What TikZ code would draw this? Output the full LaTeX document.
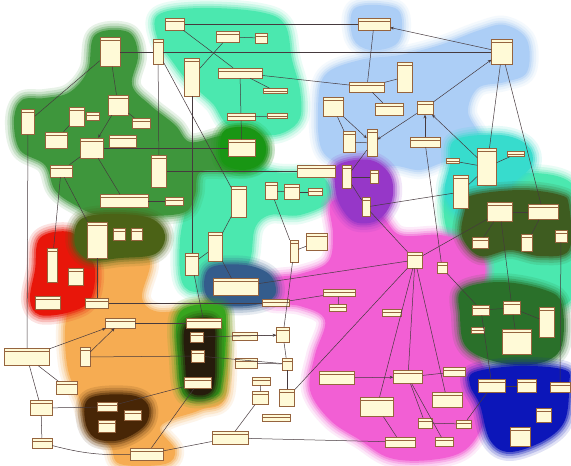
\documentclass[tikz,border=0pt]{standalone}
\usetikzlibrary{arrows.meta}
\definecolor{cGreen}{RGB}{62,150,60}
\definecolor{cGreenB}{RGB}{25,150,20}
\definecolor{cTeal}{RGB}{75,232,175}
\definecolor{cCyan}{RGB}{55,220,205}
\definecolor{cLblue}{RGB}{172,206,246}
\definecolor{cPink}{RGB}{242,95,212}
\definecolor{cPurple}{RGB}{150,55,200}
\definecolor{cOrange}{RGB}{246,172,82}
\definecolor{cRed}{RGB}{232,22,10}
\definecolor{cOlive}{RGB}{75,98,22}
\definecolor{cSteel}{RGB}{52,92,140}
\definecolor{cBlack}{RGB}{38,28,12}
\definecolor{cGlow}{RGB}{55,165,30}
\definecolor{cBrown}{RGB}{72,38,6}
\definecolor{cROlive}{RGB}{62,92,32}
\definecolor{cRGreen}{RGB}{42,112,42}
\definecolor{cDBlue}{RGB}{12,22,185}
\definecolor{cBoxFill}{RGB}{255,250,215}
\definecolor{cBoxDraw}{RGB}{150,100,62}
\definecolor{cLine}{RGB}{70,58,62}
\tikzset{
  cls/.style={draw=cBoxDraw, fill=cBoxFill, line width=0.5pt, inner sep=0pt,
    path picture={\draw[cBoxDraw, line width=0.3pt]
      ([yshift=-3pt]path picture bounding box.north west) -- ([yshift=-3pt]path picture bounding box.north east);}},
  conn/.style={draw=cLine, line width=0.5pt},
  arr/.style={conn, -{Stealth[length=3.5pt,width=3pt]}},
}
\newcommand\cl[5]{\node[cls,minimum width=#4pt,minimum height=#5pt] (#1) at (#2,#3) {};}
\newcommand\blob[2]{%
  \draw[#1, line width=18pt, opacity=0.12, line join=round] plot[smooth cycle, tension=0.6] coordinates {#2};
  \draw[#1, line width=13pt, opacity=0.18, line join=round] plot[smooth cycle, tension=0.6] coordinates {#2};
  \draw[#1, line width=8pt, opacity=0.28, line join=round] plot[smooth cycle, tension=0.6] coordinates {#2};
  \draw[#1, line width=4pt, opacity=0.45, line join=round] plot[smooth cycle, tension=0.6] coordinates {#2};
  \fill[#1] plot[smooth cycle, tension=0.6] coordinates {#2};}
\begin{document}
\begin{tikzpicture}[x=1pt,y=-1pt]
\fill[white] (0,0) rectangle (571,466);
\useasboundingbox (0,0) rectangle (571,466);
% ---------------- blobs ----------------
\blob{cTeal}{(158,15) (200,8) (260,12) (285,25) (292,60) (300,90) (300,118) (285,132) (265,135) (252,125) (228,125) (214,105) (200,92) (185,78) (170,58) (158,40)}
\blob{cTeal}{(195,160) (240,160) (275,172) (320,175) (330,200) (300,215) (270,215) (255,228) (250,260) (235,280) (200,292) (182,282) (180,240) (188,200)}
\blob{cTeal}{(452,188) (571,183) (571,300) (470,302) (455,262)}
\blob{cLblue}{(355,8) (395,8) (402,28) (395,45) (370,50) (353,38)}
\blob{cLblue}{(325,75) (360,60) (400,55) (440,45) (480,30) (505,25) (527,40) (527,72) (505,82) (478,88) (468,112) (480,138) (470,160) (445,162) (420,170) (395,166) (370,170) (345,166) (322,150) (318,110)}
\blob{cCyan}{(455,140) (500,135) (527,145) (532,165) (512,185) (492,215) (462,216) (445,195) (450,165)}
\blob{cGreen}{(95,35) (128,32) (138,55) (132,85) (150,105) (175,125) (190,142) (220,136) (250,133) (266,150) (256,166) (230,170) (200,172) (195,195) (185,212) (150,216) (100,215) (75,205) (55,190) (45,165) (20,150) (14,120) (22,100) (45,98) (70,92) (88,70)}
\blob{cGreenB}{(225,130) (250,128) (265,142) (262,162) (244,170) (224,164) (220,148)}
\blob{cPink}{(345,200) (380,215) (400,235) (440,235) (470,245) (485,265) (480,300) (470,330) (480,360) (490,385) (485,420) (465,450) (430,460) (390,458) (360,440) (330,420) (310,390) (315,355) (325,320) (300,306) (268,302) (268,280) (300,274) (328,262) (333,235) (330,205)}
\blob{cPurple}{(338,165) (370,160) (390,175) (392,200) (378,220) (355,222) (340,205) (335,185)}
\blob{cOrange}{(95,255) (130,250) (150,262) (142,298) (160,312) (200,305) (212,296) (225,315) (226,395) (200,410) (170,420) (160,430) (175,450) (165,464) (120,464) (110,445) (90,430) (80,400) (68,370) (65,330) (70,300) (75,270)}
\blob{cRed}{(40,238) (70,232) (85,250) (95,270) (90,300) (70,312) (40,315) (30,300) (35,270)}
\blob{cOlive}{(80,220) (110,214) (150,218) (165,235) (155,254) (120,258) (90,260) (75,245)}
\blob{cSteel}{(210,268) (245,265) (270,275) (275,295) (255,305) (220,305) (205,292)}
\blob{cGlow}{(180,312) (220,306) (226,330) (222,380) (215,396) (185,396) (178,360)}
\blob{cBlack}{(186,326) (212,321) (215,350) (212,390) (190,392) (185,360)}
\blob{cBrown}{(90,398) (130,395) (148,405) (145,425) (120,440) (95,438) (85,420)}
\blob{cROlive}{(470,196) (520,190) (560,195) (569,206) (569,250) (540,256) (510,250) (480,256) (462,236) (465,210)}
\blob{cRGreen}{(462,290) (500,282) (545,290) (562,305) (560,350) (530,365) (490,360) (465,345) (460,315)}
\blob{cDBlue}{(475,372) (520,366) (565,370) (569,385) (565,420) (545,440) (510,452) (490,440) (480,405) (470,385)}
% ---------------- classes ----------------
% green
\cl{g1}{110}{52}{20}{29}
\cl{g2}{118}{105}{20}{20}
\cl{g3}{28}{122}{13}{25}
\cl{g4}{77}{117}{15}{19}
\cl{g5}{93}{116}{13}{8}
\cl{g6}{141}{123}{18}{10}
\cl{g7}{56}{140}{22}{16}
\cl{g8}{92}{148}{23}{20}
\cl{g9}{123}{141}{27}{12}
\cl{g10}{61}{171}{22}{12}
\cl{g11}{159}{171}{15}{32}
\cl{g12}{124}{201}{48}{13}
\cl{g13}{174}{201}{18}{8}
% teal
\cl{t1}{175}{24}{19}{12}
\cl{t2}{228}{37}{23}{11}
\cl{t3}{261}{38}{12}{10}
\cl{t4}{158}{52}{10}{25}
\cl{t5}{192}{77}{15}{38}
\cl{t6}{240}{73}{44}{10}
\cl{t7}{275}{91}{24}{5}
\cl{t8}{241}{117}{28}{7}
\cl{t9}{277}{116}{20}{5}
\cl{t10}{242}{148}{27}{17}
\cl{t11}{239}{202}{15}{31}
\cl{t12}{271}{191}{12}{17}
\cl{t13}{292}{192}{15}{15}
\cl{t14}{315}{192}{14}{7}
\cl{t15}{215}{247}{14}{29}
\cl{t16}{192}{264}{13}{22}
% light blue
\cl{b1}{374}{24}{32}{12}
\cl{b2}{502}{52}{21}{25}
\cl{b3}{405}{77}{15}{30}
\cl{b4}{367}{87}{35}{10}
\cl{b5}{333}{107}{20}{19}
\cl{b6}{389}{109}{28}{12}
\cl{b7}{425}{108}{16}{13}
\cl{b8}{349}{142}{12}{21}
\cl{b9}{372}{143}{10}{27}
\cl{b10}{425}{142}{30}{10}
% cyan
\cl{c1}{487}{167}{19}{37}
\cl{c2}{516}{154}{17}{5}
\cl{c3}{453}{161}{13}{5}
\cl{c4}{461}{192}{15}{33}
% purple
\cl{p1}{316}{171}{38}{12}
\cl{p2}{347}{177}{9}{23}
\cl{p3}{374}{177}{8}{13}
\cl{p4}{366}{207}{8}{19}
% olive top
\cl{o1}{97}{240}{20}{36}
\cl{o2}{119}{234}{12}{12}
\cl{o3}{137}{234}{11}{12}
% red
\cl{r1}{52}{265}{10}{34}
\cl{r2}{76}{277}{15}{17}
\cl{r3}{48}{303}{25}{13}
\cl{r4}{97}{303}{23}{10}
% steel
\cl{s1}{236}{287}{45}{17}
\cl{s2}{276}{303}{27}{7}
% orange and around
\cl{a1}{120}{323}{30}{10}
\cl{a2}{204}{323}{35}{10}
\cl{a3}{197}{337}{13}{10}
\cl{a4}{198}{356}{13}{12}
\cl{a5}{198}{383}{27}{11}
\cl{a6}{27}{357}{45}{17}
\cl{a7}{85}{357}{10}{19}
\cl{a8}{67}{388}{21}{13}
\cl{a9}{41}{408}{22}{15}
\cl{a10}{107}{407}{20}{9}
\cl{a11}{133}{415}{17}{10}
\cl{a12}{107}{426}{17}{12}
\cl{a13}{42}{443}{20}{10}
\cl{a14}{147}{454}{33}{12}
\cl{a15}{230}{438}{36}{13}
% middle
\cl{m1}{245}{336}{25}{8}
\cl{m2}{246}{363}{22}{10}
\cl{m3}{283}{335}{13}{15}
\cl{m4}{261}{381}{18}{8}
\cl{m5}{260}{398}{16}{13}
\cl{m6}{276}{418}{28}{7}
\cl{m7}{287}{398}{15}{17}
\cl{m8}{294}{251}{8}{22}
\cl{m9}{317}{242}{21}{17}
\cl{m10}{287}{364}{10}{12}
% pink
\cl{k1}{415}{260}{15}{16}
\cl{k2}{442}{268}{10}{11}
\cl{k3}{339}{293}{32}{7}
\cl{k4}{338}{308}{17}{7}
\cl{k5}{392}{313}{19}{7}
\cl{k6}{337}{378}{35}{13}
\cl{k7}{408}{377}{29}{13}
\cl{k8}{454}{372}{22}{9}
\cl{k9}{377}{407}{33}{19}
\cl{k10}{447}{400}{30}{15}
\cl{k11}{425}{423}{14}{10}
\cl{k12}{464}{424}{15}{8}
\cl{k13}{400}{442}{30}{10}
\cl{k14}{444}{442}{18}{9}
% right
\cl{d1}{500}{212}{25}{19}
\cl{d2}{543}{212}{30}{15}
\cl{d3}{480}{243}{16}{11}
\cl{d4}{527}{243}{11}{17}
\cl{d5}{561}{236}{12}{12}
\cl{e1}{481}{310}{17}{10}
\cl{e2}{512}{308}{17}{13}
\cl{e3}{547}{322}{15}{30}
\cl{e4}{478}{330}{13}{6}
\cl{e5}{517}{342}{29}{25}
\cl{f1}{492}{386}{27}{13}
\cl{f2}{527}{386}{19}{13}
\cl{f3}{560}{387}{20}{10}
\cl{f4}{544}{415}{15}{14}
\cl{f5}{520}{437}{20}{19}
% ---------------- connectors ----------------
\draw[conn] (t1) -- (b1);
\draw[conn] (g1) -- (t4);
\draw[conn] (t4) -- (b2);
\draw[arr] (b2) -- (b1);
\draw[conn] (b2) -- (c1);
\draw[conn] (b2) -- (d2);
\draw[arr] (b7) -- (b2);
\draw[arr] (b7) -- (b9);
\draw[arr] (c1) -- (b7);
\draw[conn] (b10) -- (k2);
\draw[arr] (b10) -- (b7);
\draw[conn] (b1) -- (b4);
\draw[conn] (b4) -- (b3);
\draw[conn] (b4) -- (b6);
\draw[conn] (t6) -- (b4);
\draw[arr] (b5) -- (b9);
\draw[conn] (b5) -- (b8);
\draw[conn] (b8) -- (b9);
\draw[conn] (b9) -- (p2);
\draw[conn] (g11) -- (p1);
\draw[conn] (p2) -- (p3);
\draw[conn] (p2) -- (p4);
\draw[conn] (p4) -- (c4);
\draw[conn] (c4) -- (c1);
\draw[conn] (c3) -- (c1);
\draw[conn] (c2) -- (c1);
\draw[conn] (p4) -- (k1);
\draw[conn] (d1) -- (k1);
\draw[conn] (s1) -- (k1);
\draw[conn] (k1) -- (m7);
\draw[conn] (k1) -- (k7);
\draw[conn] (k1) -- (k10);
\draw[conn] (k1) -- (k9);
\draw[conn] (k2) -- (e1);
\draw[arr] (k6) -- (k7);
\draw[conn] (k7) -- (k8);
\draw[conn] (k7) -- (k11);
\draw[conn] (k11) -- (k12);
\draw[conn] (k7) -- (k14);
\draw[conn] (k9) -- (k13);
\draw[conn] (k12) -- (f1);
\draw[conn] (e1) -- (f1);
\draw[conn] (d1) -- (e2);
\draw[conn] (d1) -- (d2);
\draw[conn] (d3) -- (d1);
\draw[conn] (d4) -- (d2);
\draw[conn] (d5) -- (f3);
\draw[conn] (e2) -- (e3);
\draw[conn] (e2) -- (e5);
\draw[conn] (e1) -- (e2);
\draw[conn] (f1) -- (f2);
\draw[conn] (a15) -- (k13);
\draw[conn] (a6) -- (a9);
\draw[conn] (a9) -- (a13);
\draw[conn] (a13) to[bend right=8] (a14);
\draw[conn] (a14) -- (a15);
\draw[conn] (a14) -- (a5);
\draw[conn] (a9) -- (a10);
\draw[conn] (a5) -- (a10);
\draw[arr] (a6) -- (a1);
\draw[conn] (a6) -- (a8);
\draw[arr] (a7) -- (a1);
\draw[conn] (a7) -- (a4);
\draw[conn] (a1) -- (a2);
\draw[conn] (r4) -- (s2);
\draw[conn] (r4) -- (o1);
\draw[conn] (t16) -- (a2);
\draw[conn] (t5) -- (t16);
\draw[conn] (t4) -- (t11);
\draw[conn] (t1) -- (t6);
\draw[conn] (t2) -- (t5);
\draw[conn] (t2) -- (t3);
\draw[conn] (t6) -- (t8);
\draw[conn] (t8) -- (t9);
\draw[conn] (t8) -- (t10);
\draw[conn] (t6) -- (t7);
\draw[conn] (g1) -- (g3);
\draw[conn] (g1) -- (g2);
\draw[arr] (g2) -- (g8);
\draw[conn] (g2) -- (g6);
\draw[conn] (g4) -- (g7);
\draw[conn] (g8) -- (g12);
\draw[conn] (g8) -- (t10);
\draw[conn] (g8) -- (g10);
\draw[conn] (g10) -- (r1);
\draw[conn] (g10) -- (o1);
\draw[conn] (g12) -- (g13);
\draw[conn] (t4) -- (g11);
\draw[conn] (g3) -- (a6);
\draw[conn] (t11) -- (t15);
\draw[conn] (t15) -- (t16);
\draw[conn] (t15) -- (s1);
\draw[conn] (t12) -- (m8);
\draw[conn] (t12) -- (t13);
\draw[conn] (t13) -- (t14);
\draw[conn] (m8) -- (m3);
\draw[conn] (m3) -- (m10);
\draw[conn] (m10) -- (m7);
\draw[conn] (m9) -- (m8);
\draw[arr] (m1) -- (m3);
\draw[conn] (a4) -- (m10);
\draw[conn] (a3) -- (m3);
\draw[conn] (m2) -- (m10);
\draw[conn] (m5) -- (m4);
\draw[conn] (m5) -- (a15);
\draw[conn] (s2) -- (k3);
\draw[conn] (k3) -- (k4);
\end{tikzpicture}
\end{document}
